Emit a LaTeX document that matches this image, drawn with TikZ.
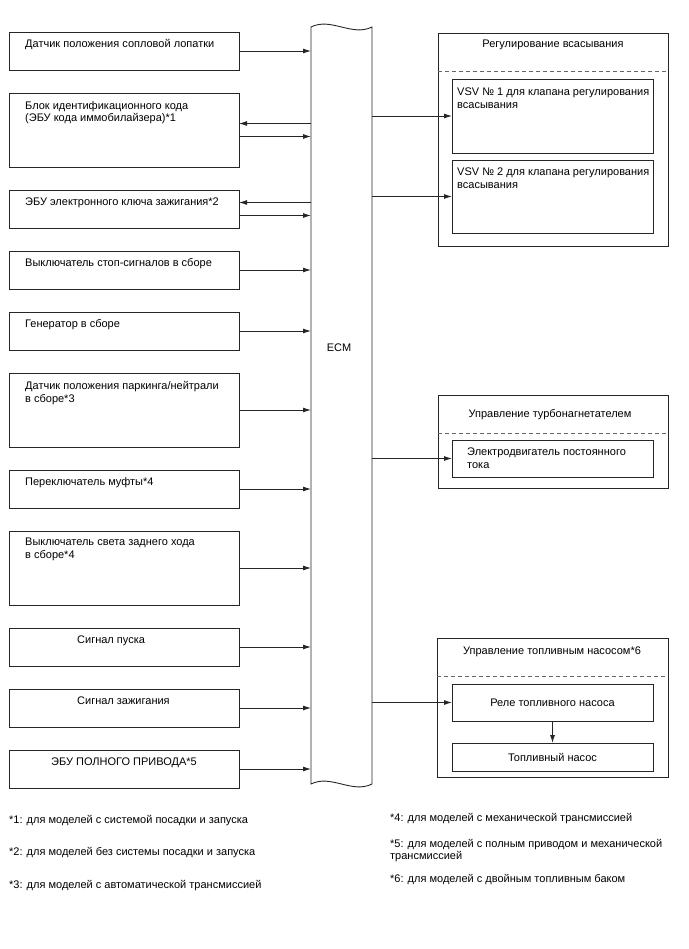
\documentclass[tikz,border=0pt]{standalone}
\usepackage{fontspec}
\setmainfont{Liberation Sans}
\usetikzlibrary{positioning, arrows.meta, calc}

\begin{document}
\begin{tikzpicture}[
    x=1pt, y=-1pt,
    inbox/.style={
        rectangle,
        draw=black!85,
        line width=0.9pt,
        minimum width=230pt,
        minimum height=38pt,
        node distance=23pt,
        inner sep=0pt,
        outer sep=0pt
    },
    tall/.style={minimum height=74pt},
    group/.style={
        rectangle,
        draw=black!85,
        line width=0.9pt,
        minimum width=230pt,
        anchor=north west,
        inner sep=0pt,
        outer sep=0pt
    },
    unit/.style={
        rectangle,
        draw=black!85,
        line width=0.9pt,
        minimum width=201pt,
        anchor=north west,
        inner sep=0pt,
        outer sep=0pt,
        font=\fontsize{11}{12.7}\selectfont
    },
    txt/.style={
        font=\fontsize{11}{12.7}\selectfont,
        inner sep=0pt,
        align=left
    },
    note/.style={
        font=\fontsize{11}{12.7}\selectfont,
        inner sep=0pt,
        align=left,
        anchor=west
    },
    arrow/.style={
        line width=0.9pt,
        draw=black!85,
        -{Latex[length=8pt, width=5pt]}
    },
    sep/.style={
        draw=black!60,
        line width=0.9pt,
        dash pattern=on 4pt off 3pt
    }
]
    \useasboundingbox (0,0) rectangle (688,949);

    % ECM body
    \node[minimum width=61pt, minimum height=757pt, inner sep=0pt, outer sep=0pt] (ecm) at (341.5,405.5) {};
    \draw[line width=0.9pt, draw=black!85] (ecm.north west)
        .. controls +(20,-10) and +(-20,10) .. (ecm.north east) -- (ecm.south east)
        .. controls +(-20,10) and +(20,-10) .. (ecm.south west) -- cycle;
    \node[txt] (ecmtext) at (339,348) {ECM};

    % Inputs
    \node[inbox, anchor=north west] (b1) at (9,32) {};
    \node[txt, below right=7.5pt and 16pt of b1.north west] (t1) {Датчик положения сопловой лопатки};

    \node[inbox, tall, below=of b1] (b2) {};
    \node[txt, below right=8pt and 16pt of b2.north west] (t2) {Блок идентификационного кода\\(ЭБУ кода иммобилайзера)*1};

    \node[inbox, below=of b2] (b3) {};
    \node[txt, below right=7.5pt and 16pt of b3.north west] (t3) {ЭБУ электронного ключа зажигания*2};

    \node[inbox, below=of b3] (b4) {};
    \node[txt, below right=7.5pt and 16pt of b4.north west] (t4) {Выключатель стоп-сигналов в сборе};

    \node[inbox, below=of b4] (b5) {};
    \node[txt, below right=7.5pt and 16pt of b5.north west] (t5) {Генератор в сборе};

    \node[inbox, tall, below=of b5] (b6) {};
    \node[txt, below right=8pt and 16pt of b6.north west] (t6) {Датчик положения паркинга/нейтрали\\в сборе*3};

    \node[inbox, below=of b6] (b7) {};
    \node[txt, below right=7.5pt and 16pt of b7.north west] (t7) {Переключатель муфты*4};

    \node[inbox, tall, below=of b7] (b8) {};
    \node[txt, below right=7pt and 16pt of b8.north west] (t8) {Выключатель света заднего хода\\в сборе*4};

    \node[inbox, below=of b8] (b9) {};
    \node[txt, below right=7.5pt and 68pt of b9.north west] (t9) {Сигнал пуска};

    \node[inbox, below=of b9] (b10) {};
    \node[txt, below right=7.5pt and 68pt of b10.north west] (t10) {Сигнал зажигания};

    \node[inbox, below=of b10] (b11) {};
    \node[txt, below=7.5pt of b11.north] (t11) {ЭБУ ПОЛНОГО ПРИВОДА*5};

    % Input arrows
    \draw[arrow] (b1.east) -- (b1.east -| ecm.west);
    \draw[arrow] ($(b2.east -| ecm.west)+(0,-6.5)$) -- ($(b2.east)+(0,-6.5)$);
    \draw[arrow] ($(b2.east)+(0,6.5)$) -- ($(b2.east -| ecm.west)+(0,6.5)$);
    \draw[arrow] ($(b3.east -| ecm.west)+(0,-6.5)$) -- ($(b3.east)+(0,-6.5)$);
    \draw[arrow] ($(b3.east)+(0,6.5)$) -- ($(b3.east -| ecm.west)+(0,6.5)$);
    \draw[arrow] (b4.east) -- (b4.east -| ecm.west);
    \draw[arrow] (b5.east) -- (b5.east -| ecm.west);
    \draw[arrow] (b6.east) -- (b6.east -| ecm.west);
    \draw[arrow] (b7.east) -- (b7.east -| ecm.west);
    \draw[arrow] (b8.east) -- (b8.east -| ecm.west);
    \draw[arrow] (b9.east) -- (b9.east -| ecm.west);
    \draw[arrow] (b10.east) -- (b10.east -| ecm.west);
    \draw[arrow] (b11.east) -- (b11.east -| ecm.west);

    % Intake control
    \node[group, minimum height=213pt] (g1) at (438,33) {};
    \node[txt] (g1title) at (553,45) {Регулирование всасывания};
    \draw[sep] ($(g1.north west)+(0,38)$) -- ($(g1.north east)+(0,38)$);
    \node[unit, minimum height=74pt] (v1) at (452,79) {};
    \node[txt, below right=8.5pt and 5pt of v1.north west] (tv1) {VSV № 1 для клапана регулирования\\всасывания};
    \node[unit, minimum height=73pt] (v2) at (452,160) {};
    \node[txt, below right=7.5pt and 5pt of v2.north west] (tv2) {VSV № 2 для клапана регулирования\\всасывания};
    \draw[arrow] (v1.west -| ecm.east) -- (v1.west);
    \draw[arrow] (v2.west -| ecm.east) -- (v2.west);

    % Turbo control
    \node[group, minimum height=93pt] (g2) at (438,395) {};
    \node[txt] (g2title) at (550,415) {Управление турбонагнетателем};
    \draw[sep] ($(g2.north west)+(0,38)$) -- ($(g2.north east)+(0,38)$);
    \node[unit, minimum height=37pt] (m1) at (452,440) {};
    \node[txt, below right=7.5pt and 15pt of m1.north west] (tm1) {Электродвигатель постоянного\\тока};
    \draw[arrow] (m1.west -| ecm.east) -- (m1.west);

    % Fuel pump control
    \node[group, minimum width=231pt, minimum height=139pt] (g3) at (437,638) {};
    \node[txt] (g3title) at (552,652) {Управление топливным насосом*6};
    \draw[sep] ($(g3.north west)+(0,38)$) -- ($(g3.north east)+(0,38)$);
    \node[unit, minimum height=37pt] (r1) at (452,684) {Реле топливного насоса};
    \node[unit, minimum height=28pt] (p1) at (452,743) {Топливный насос};
    \draw[arrow] (r1.west -| ecm.east) -- (r1.west);
    \draw[arrow] (r1.south) -- (p1.north);

    % Notes
    \node[note] (n1) at (9,821) {*1: для моделей с системой посадки и запуска};
    \node[note] (n2) at (9,853) {*2: для моделей без системы посадки и запуска};
    \node[note] (n3) at (9,886) {*3: для моделей с автоматической трансмиссией};
    \node[note] (n4) at (390,819) {*4: для моделей с механической трансмиссией};
    \node[note] (n5) at (390,850.5) {*5: для моделей с полным приводом и механической\\трансмиссией};
    \node[note] (n6) at (390,880) {*6: для моделей с двойным топливным баком};

\end{tikzpicture}
\end{document}
